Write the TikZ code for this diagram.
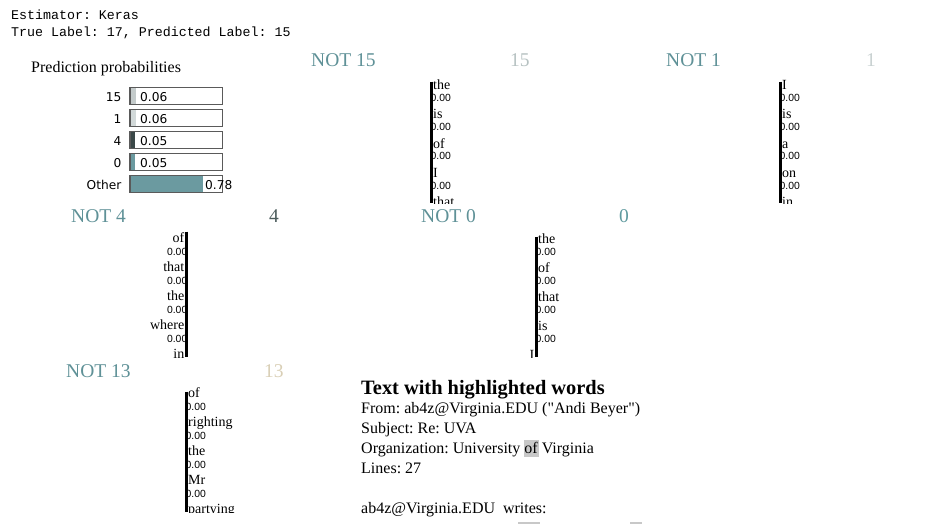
\documentclass[tikz,border=0pt]{standalone}
\usepackage{fontspec}
\setmainfont{Liberation Serif}
\setmonofont{Liberation Mono}
\newfontfamily\barfamily{DejaVu Sans}
\newfontfamily\valfamily{Liberation Sans}
\usepackage{xcolor}
\frenchspacing

\definecolor{nottext}{HTML}{5F9197}
\definecolor{cls15}{HTML}{B7C2C2}
\definecolor{cls1}{HTML}{C8D1D1}
\definecolor{cls4}{HTML}{4C5C5C}
\definecolor{cls0}{HTML}{5F9A9F}
\definecolor{cls13}{HTML}{D9CFB6}
\definecolor{bar15}{HTML}{C4CBCB}
\definecolor{bar1}{HTML}{D2D9D9}
\definecolor{bar4}{HTML}{3A4848}
\definecolor{bar0}{HTML}{6B9AA0}
\definecolor{barother}{HTML}{6B9AA0}
\definecolor{boxgray}{HTML}{5A5A5A}
\definecolor{hlgray}{HTML}{C8C8C8}

\newcommand\monotext{\ttfamily\fontsize{13.3}{16}\selectfont}
\newcommand\headtext{\fontsize{19.5}{23}\selectfont}
\newcommand\wordtext{\fontsize{14}{17}\selectfont}
\newcommand\valtext{\valfamily\fontsize{10.4}{12}\selectfont}
\newcommand\bartext{\barfamily\fontsize{12.2}{15}\selectfont}
\newcommand\maintext{\fontsize{16}{20}\selectfont}
\newcommand\titletext{\bfseries\fontsize{20.4}{24}\selectfont}

\tikzset{
  monoline/.style={font=\monotext, anchor=base west, inner sep=0},
  headlbl/.style={font=\headtext, anchor=base west, inner sep=0},
  wordlbl/.style={font=\wordtext, inner sep=0},
  wordval/.style={font=\valtext, inner sep=0},
  barlbl/.style={font=\bartext, inner sep=0},
  barbox/.style={draw=boxgray, line width=1.3},
  wordbar/.style={line width=3},
  bodytxt/.style={font=\maintext, anchor=base west, inner sep=0},
  hlbox/.style={fill=hlgray}
}

\begin{document}
\begin{tikzpicture}[x=1pt,y=-1pt]
                    \useasboundingbox (0,0) rectangle (934,524);
                    \node[monoline] (est) at (11,20){Estimator: Keras};
                    \node[monoline] (lbl) at (11,36.5){True Label: 17, Predicted Label: 15};
                    \node[bodytxt] (pp) at (31,73){Prediction probabilities};
                    \foreach \lab/\p/\col [count=\i from 0] in {15/0.06/bar15,1/0.06/bar1,4/0.05/bar4,0/0.05/bar0}{
                        \fill[\col](130,87.5+22*\i)rectangle++(92*\p,17);
                        \draw[barbox](130,87.5+22*\i)rectangle++(92.5,17);
                        \node[barlbl,anchor=base east] (c\i) at (121.5,101.5+22*\i){\lab};
                        \node[barlbl,anchor=base west] (v\i) at (140,101.5+22*\i){\p};
                    }
                    \fill[barother](130,175.5)rectangle(203,192.5);
                    \draw[barbox](130,175.5)rectangle++(92.5,17);
                    \node[barlbl,anchor=base east] (c4) at (121.5,189.5){Other};
                    \node[barlbl,anchor=base west] (v4) at (205,189.5){0.78};

                    \node[headlbl,text=nottext] (n15) at (311,67){NOT 15};
                    \node[headlbl,text=cls15] (k15) at (510,67){15};
                    \node[headlbl,text=nottext] (n1) at (666,67){NOT 1};
                    \node[headlbl,text=cls1] (k1) at (866,67){1};
                    \node[headlbl,text=nottext] (n4) at (71,222){NOT 4};
                    \node[headlbl,text=cls4] (k4) at (269,222){4};
                    \node[headlbl,text=nottext] (n0) at (421,222){NOT 0};
                    \node[headlbl,text=cls0] (k0) at (619,222){0};
                    \node[headlbl,text=nottext] (n13) at (66,377){NOT 13};
                    \node[headlbl,text=cls13] (k13) at (264,377){13};

                    \begin{scope}
                        \clip(420,75)rectangle(530,203);
                        \foreach \w [count=\i from 0] in {the,is,of,I,that}
                            \node[wordlbl,anchor=base west] (wa\i) at (433,90+29*\i){\w};
                        \foreach \i in {0,...,3}
                            \node[wordval,anchor=base west] (va\i) at (430.5,102+29*\i){0.00};
                        \coordinate (at) at (431,81.7);
                        \coordinate (ab) at (431,202.7);
                        \draw[wordbar](at)--(ab);
                    \end{scope}
                    \begin{scope}
                        \clip(770,75)rectangle(880,203);
                        \foreach \w [count=\i from 0] in {I,is,a,on,in}
                            \node[wordlbl,anchor=base west] (wb\i) at (782,90+29*\i){\w};
                        \foreach \i in {0,...,3}
                            \node[wordval,anchor=base west] (vb\i) at (779.5,102+29*\i){0.00};
                        \coordinate (bt) at (780,81.7);
                        \coordinate (bb) at (780,202.7);
                        \draw[wordbar](bt)--(bb);
                    \end{scope}
                    \begin{scope}
                        \clip(110,225)rectangle(200,357);
                        \foreach \w [count=\i from 0] in {of,that,the,where,in}
                            \node[wordlbl,anchor=base east] (wc\i) at (184.5,242.5+29*\i){\w};
                        \foreach \i in {0,...,3}
                            \node[wordval,anchor=base east] (vc\i) at (187.5,255.5+29*\i){0.00};
                        \coordinate (ct) at (186.3,231.7);
                        \coordinate (cb) at (186.3,356.7);
                        \draw[wordbar](ct)--(cb);
                    \end{scope}
                    \begin{scope}
                        \clip(515,230)rectangle(610,357);
                        \foreach \w [count=\i from 0] in {the,of,that,is}
                            \node[wordlbl,anchor=base west] (wd\i) at (538,243+29*\i){\w};
                        \foreach \i in {0,...,3}
                            \node[wordval,anchor=base west] (vd\i) at (535.5,255+29*\i){0.00};
                        \node[wordlbl,anchor=base east] (wd4) at (534.5,359){I};
                        \coordinate (dt) at (536,236.7);
                        \coordinate (db) at (536,356.7);
                        \draw[wordbar](dt)--(db);
                    \end{scope}
                    \begin{scope}
                        \clip(175,385)rectangle(270,512);
                        \foreach \w [count=\i from 0] in {of,righting,the,Mr,partying}
                            \node[wordlbl,anchor=base west] (we\i) at (188,397.5+29*\i){\w};
                        \foreach \i in {0,...,3}
                            \node[wordval,anchor=base west] (ve\i) at (185.5,410+29*\i){0.00};
                        \coordinate (et) at (186,391.7);
                        \coordinate (eb) at (186,511.7);
                        \draw[wordbar](et)--(eb);
                    \end{scope}

                    \fill[hlbox](523.5,440)rectangle(538.5,457);
                    \fill[hlbox](518,521.5)rectangle(540,524);
                    \fill[hlbox](630,521.5)rectangle(642,524);
                    \node[bodytxt,font=\titletext] (tt) at (361,394){Text with highlighted words};
                    \foreach \t [count=\i from 0] in {{From: ab4z@Virginia.EDU (\textquotedbl Andi Beyer\textquotedbl)},{Subject: Re: UVA},{Organization: University of Virginia},{Lines: 27},{},{ab4z@Virginia.EDU\ \ writes:}}
                        \node[bodytxt] (l\i) at (361,413+20*\i){\t};
                \end{tikzpicture}
\end{document}
